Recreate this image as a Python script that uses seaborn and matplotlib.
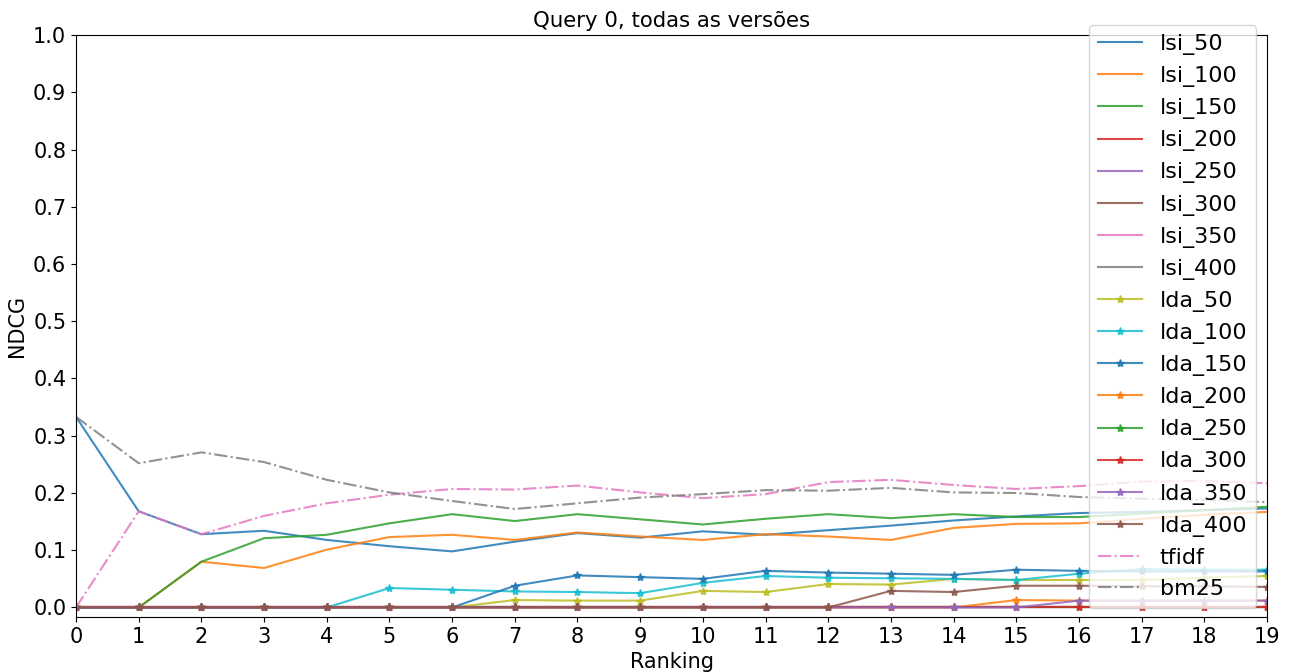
import numpy as np
import matplotlib
matplotlib.use("Agg")
import matplotlib.pyplot as plt
import seaborn as sns

rank = list(range(20))

lsi_50 = [0.333, 0.168, 0.128, 0.134, 0.118, 0.107, 0.098, 0.115, 0.130, 0.122,
          0.133, 0.127, 0.135, 0.143, 0.152, 0.159, 0.165, 0.167, 0.170, 0.173]
lsi_100 = [0, 0, 0.080, 0.069, 0.101, 0.123, 0.127, 0.118, 0.131, 0.124,
           0.118, 0.128, 0.124, 0.118, 0.139, 0.146, 0.147, 0.155, 0.162, 0.167]
lsi_150 = [0, 0, 0.080, 0.121, 0.127, 0.147, 0.163, 0.151, 0.163, 0.154,
           0.145, 0.155, 0.163, 0.156, 0.163, 0.158, 0.158, 0.164, 0.170, 0.176]
lsi_200 = [0] * 20
lsi_250 = [0] * 20
lsi_300 = [0] * 20
lsi_350 = [0] * 20
lsi_400 = [0] * 20
lda_50 = [0] * 7 + [0.013, 0.012, 0.012, 0.029, 0.027, 0.041, 0.040, 0.050, 0.048,
                    0.048, 0.048, 0.052, 0.055]
lda_100 = [0] * 5 + [0.034, 0.031, 0.028, 0.027, 0.025, 0.043, 0.055, 0.052, 0.051,
                     0.050, 0.048, 0.059, 0.067, 0.066, 0.066]
lda_150 = [0] * 7 + [0.038, 0.056, 0.053, 0.050, 0.064, 0.061, 0.059, 0.057, 0.066,
                     0.064, 0.063, 0.063, 0.063]
lda_200 = [0] * 15 + [0.013, 0.012, 0.012, 0.012, 0.012]
lda_250 = [0] * 20
lda_300 = [0] * 20
lda_350 = [0] * 16 + [0.012, 0.012, 0.012, 0.012]
lda_400 = [0] * 13 + [0.029, 0.027, 0.038, 0.038, 0.037, 0.037, 0.036]
tfidf = [0, 0.168, 0.128, 0.160, 0.182, 0.197, 0.207, 0.206, 0.213, 0.201,
         0.191, 0.198, 0.219, 0.223, 0.214, 0.207, 0.212, 0.220, 0.221, 0.217]
bm25 = [0.333, 0.252, 0.271, 0.254, 0.223, 0.201, 0.186, 0.172, 0.182, 0.192,
        0.198, 0.205, 0.204, 0.209, 0.201, 0.200, 0.193, 0.190, 0.188, 0.184]

lsi = {"lsi_50": lsi_50, "lsi_100": lsi_100, "lsi_150": lsi_150, "lsi_200": lsi_200,
       "lsi_250": lsi_250, "lsi_300": lsi_300, "lsi_350": lsi_350, "lsi_400": lsi_400}
lda = {"lda_50": lda_50, "lda_100": lda_100, "lda_150": lda_150, "lda_200": lda_200,
       "lda_250": lda_250, "lda_300": lda_300, "lda_350": lda_350, "lda_400": lda_400}

pal = sns.color_palette("tab10")

fig = plt.figure(figsize=(12.95, 6.72), dpi=100)
ax = fig.add_axes([0.0587, 0.0818, 0.9197, 0.8661])

i = 0
for name, vals in lsi.items():
    sns.lineplot(x=rank, y=vals, ax=ax, label=name, color=pal[i % 10], alpha=0.85, lw=1.5)
    i += 1
for name, vals in lda.items():
    c = pal[i % 10]
    sns.lineplot(x=rank, y=vals, ax=ax, label=name, color=c, alpha=0.85, lw=1.5,
                 marker="*", markersize=6, markeredgecolor=c, markeredgewidth=1)
    i += 1
sns.lineplot(x=rank, y=tfidf, ax=ax, label="tfidf", color=pal[6], alpha=0.85, lw=1.5, linestyle="-.")
sns.lineplot(x=rank, y=bm25, ax=ax, label="bm25", color=pal[7], alpha=0.85, lw=1.5, linestyle="-.")

ax.set_xlim(0, 19)
ax.set_ylim(-0.01667, 1.0)
ax.set_xticks(rank)
ax.set_yticks(np.arange(0, 1.01, 0.1))
ax.tick_params(labelsize=15)
ax.set_xlabel("Ranking", fontsize=15)
ax.set_ylabel("NDCG", fontsize=15)
ax.set_title("Query 0, todas as versões", fontsize=15.3)
ax.legend(loc="upper right", bbox_to_anchor=(0.991, 1.017), borderaxespad=0, fontsize=16)

fig.savefig("out.png", dpi=100)
